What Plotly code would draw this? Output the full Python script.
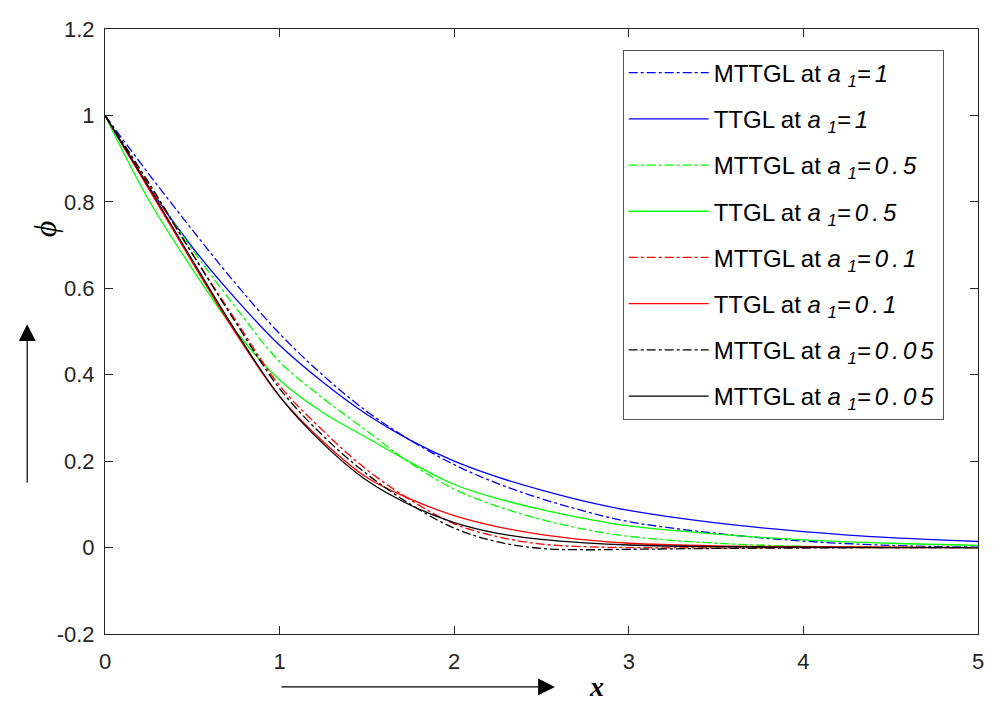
import plotly.graph_objects as go

x_vals = [0, 0.25, 0.5, 0.75, 1, 1.25, 1.5, 1.75, 2, 2.25, 2.5, 2.75, 3, 3.5, 4, 4.5, 5]

mttgl_a1 = [1, 0.865, 0.735, 0.61, 0.495, 0.398, 0.315, 0.248, 0.192, 0.148, 0.113, 0.084, 0.06, 0.033, 0.015, 0.005, 0.001]
ttgl_a1 = [1, 0.835, 0.695, 0.575, 0.468, 0.382, 0.308, 0.248, 0.2, 0.163, 0.133, 0.107, 0.086, 0.057, 0.037, 0.023, 0.014]
mttgl_a05 = [1, 0.84, 0.69, 0.555, 0.43, 0.345, 0.27, 0.195, 0.135, 0.095, 0.065, 0.042, 0.026, 0.01, 0.003, 0.001, 0.0]
ttgl_a05 = [1, 0.805, 0.645, 0.5, 0.388, 0.312, 0.254, 0.197, 0.146, 0.113, 0.088, 0.067, 0.05, 0.031, 0.018, 0.01, 0.005]
mttgl_a01 = [1, 0.84, 0.68, 0.525, 0.375, 0.27, 0.18, 0.11, 0.055, 0.025, 0.008, 0.002, 0.0, -0.001, 0.0, 0.0, 0.0]
ttgl_a01 = [1, 0.83, 0.66, 0.495, 0.35, 0.245, 0.162, 0.112, 0.074, 0.048, 0.03, 0.018, 0.01, 0.004, 0.002, 0.001, 0.0]
mttgl_a005 = [1, 0.845, 0.68, 0.52, 0.368, 0.258, 0.17, 0.1, 0.045, 0.013, -0.002, -0.005, -0.004, -0.002, -0.001, 0.0, 0.0]
ttgl_a005 = [1, 0.835, 0.665, 0.5, 0.35, 0.24, 0.155, 0.098, 0.058, 0.033, 0.019, 0.011, 0.006, 0.002, 0.001, 0.0, 0.0]

def label(prefix, value):
    return (prefix + " at <i>a </i><sub><i>1</i></sub>"
            + "<span style='letter-spacing:4px'><i>=" + value + "</i></span>")

series = [
    (label("MTTGL", "1"), mttgl_a1, "#0000FF", "dashdot"),
    (label("TTGL", "1"), ttgl_a1, "#0000FF", "solid"),
    (label("MTTGL", "0.5"), mttgl_a05, "#00FF00", "dashdot"),
    (label("TTGL", "0.5"), ttgl_a05, "#00FF00", "solid"),
    (label("MTTGL", "0.1"), mttgl_a01, "#FF0000", "dashdot"),
    (label("TTGL", "0.1"), ttgl_a01, "#FF0000", "solid"),
    (label("MTTGL", "0.05"), mttgl_a005, "#000000", "dashdot"),
    (label("MTTGL", "0.05"), ttgl_a005, "#000000", "solid"),
]

x_ticks = [0, 1, 2, 3, 4, 5]
y_ticks = [-0.2, 0, 0.2, 0.4, 0.6, 0.8, 1, 1.2]
y_tick_labels = ["-0.2", "0", "0.2", "0.4", "0.6", "0.8", "1", "1.2"]

fig = go.Figure()
for i, (name, ys, color, dash) in enumerate(series):
    fig.add_trace(go.Scatter(
        x=x_vals, y=ys, mode="lines", name=name,
        line=dict(color=color, dash=dash, width=1.3, shape="spline", smoothing=1.0),
        legendgroup=f"g{i}",
    ))

axis_common = dict(
    showline=True, linecolor="#262626", linewidth=1, mirror="ticks",
    ticks="inside", ticklen=8, tickcolor="#262626",
    showgrid=False, zeroline=False, ticklabeloverflow="allow",
    tickfont=dict(family="Liberation Sans, Arial", size=22, color="#262626"),
)

# figure is offset by the page's 8px body margin
fig.update_layout(
    width=985, height=695,
    margin=dict(l=97, r=13, t=9, b=69),
    paper_bgcolor="white", plot_bgcolor="white",
    xaxis=dict(range=[0, 5], tickvals=x_ticks, ticklabelstandoff=8, **axis_common),
    yaxis=dict(range=[-0.2, 1.2], tickvals=y_ticks, ticktext=y_tick_labels,
               ticklabelstandoff=5, **axis_common),
    legend=dict(
        x=0.593, y=0.966, xanchor="left", yanchor="top",
        bgcolor="white", bordercolor="#555555", borderwidth=1,
        font=dict(family="Liberation Sans, Arial", size=24, color="#000000"),
        traceorder="grouped", tracegroupgap=12, itemwidth=80,
    ),
    showlegend=True,
    annotations=[
        dict(xref="paper", yref="paper", x=-0.0891, y=0.512, ax=0, ay=160,
             showarrow=True, arrowhead=2, arrowsize=2.8, arrowwidth=1.2, arrowcolor="#000000", text=""),
        dict(xref="paper", yref="paper", x=0.5154, y=-0.0875, ax=-275, ay=0,
             showarrow=True, arrowhead=2, arrowsize=2.8, arrowwidth=1.2, arrowcolor="#000000", text=""),
        dict(xref="paper", yref="paper", x=(598 - 105) / 875, y=(634 - 688) / 617,
             text="<b><i>x</i></b>", showarrow=False, xanchor="center", yanchor="middle",
             font=dict(family="Liberation Serif, Times New Roman", size=28, color="#000000")),
        dict(xref="paper", yref="paper", x=(45 - 105) / 875, y=(634 - 221) / 617,
             text="<i>ϕ</i>", showarrow=False, textangle=-90, xanchor="center", yanchor="middle",
             font=dict(family="Liberation Serif, Times New Roman", size=32, color="#000000")),
    ],
)

fig.write_html("out.html")
